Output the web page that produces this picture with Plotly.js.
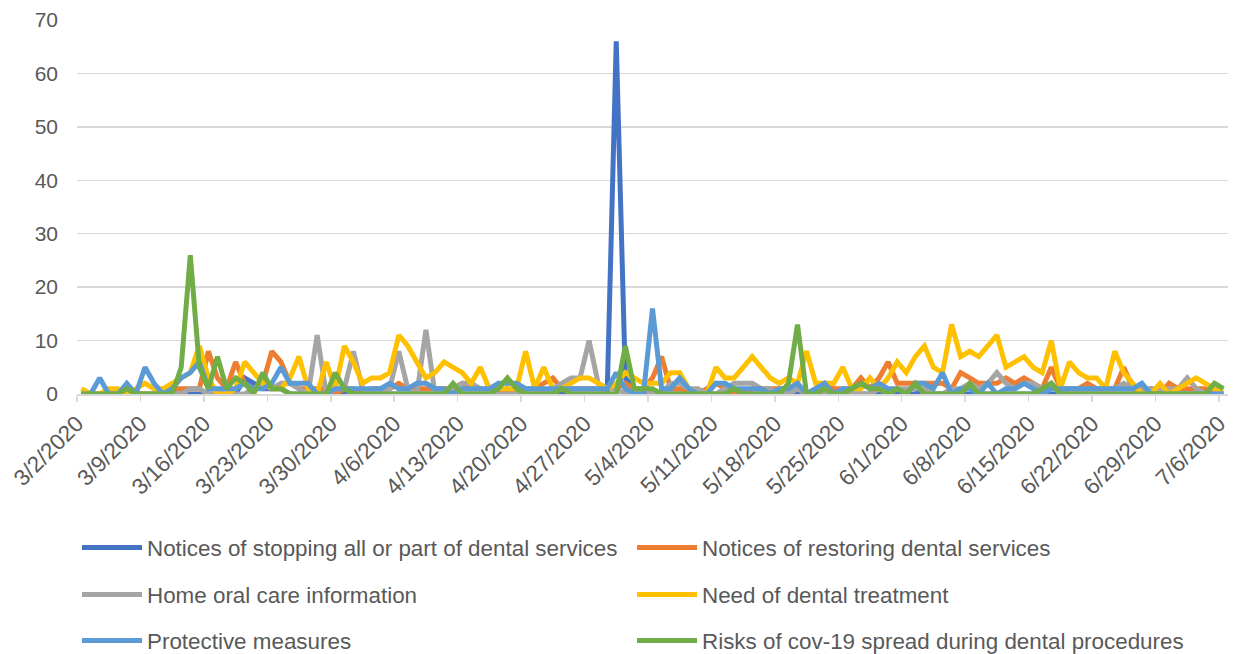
<!DOCTYPE html>
<html>
<head>
<meta charset="utf-8">
<script src="https://cdn.plot.ly/plotly-3.0.1.min.js"></script>
<style>
  html, body { margin: 0; padding: 0; background: #ffffff; }
  #chart { width: 1233px; height: 654px; }
</style>
</head>
<body>
<div id="chart"></div>
<script>
// ---- Data (daily counts, 3/2/2020 .. 7/6/2020) ----
const startDate = "2020-03-02";
const dayCount = 127;

const seriesNames = [
  "Notices of stopping all or part of dental services",
  "Notices of restoring dental services",
  "Home oral care information",
  "Need of dental treatment",
  "Protective measures",
  "Risks of cov-19 spread during dental procedures"
];

const stopping = [
  0,0,0,0,0,0,0,0,0,0, 0,0,0,0,0,0,0,0,3,2, 1,1,1,0,0,0,0,0,0,0,
  0,1,0,0,0,0,0,0,0,0, 0,0,0,0,0,0,0,0,1,0, 0,0,0,0,0,0,0,0,0,66,
  3,1,0,0,0,0,0,0,0,0, 0,0,0,0,0,0,0,0,0,0, 0,0,0,0,0,0,0,0,0,0,
  0,0,0,1,0,0,0,0,0,0, 0,0,0,0,0,0,0,0,0,0, 0,0,0,0,0,0,0,0,0,0,
  0,0,0,0,0,0,0
];

const restoring = [
  0,0,0,0,0,0,0,0,0,0, 1,1,1,1,8,3,1,6,2,1, 2,8,6,2,1,1,1,1,0,1,
  1,0,1,1,1,2,1,1,1,1, 1,1,2,1,1,1,0,1,0,1, 1,2,3,1,1,1,1,1,1,1,
  2,1,1,3,7,1,1,0,0,1, 2,1,0,0,1,1,1,1,1,1, 0,1,2,1,1,1,3,1,3,6,
  2,2,2,2,2,2,1,4,3,2, 2,2,3,2,3,2,1,5,1,1, 1,2,1,1,1,5,1,0,1,0,
  2,1,1,1,1,0,0
];

const homeCare = [
  0,0,0,0,0,0,0,0,0,0, 0,0,1,1,0,0,0,0,0,1, 2,1,2,2,1,0,11,0,1,1,
  8,1,0,0,1,8,1,0,12,0, 0,1,2,2,1,1,0,0,0,1, 1,0,1,2,3,3,10,2,1,1,
  0,0,1,0,0,2,2,1,1,0, 0,1,2,2,2,1,1,0,0,1, 0,0,0,0,0,0,0,0,1,0,
  1,1,1,1,0,0,1,1,2,1, 2,4,2,1,2,2,1,2,0,1, 1,1,1,1,1,2,1,1,1,1,
  1,1,3,1,0,0,0
];

const needTreatment = [
  1,0,0,1,1,0,1,2,1,1, 2,3,4,9,3,0,0,1,6,4, 2,1,1,3,7,1,0,6,1,9,
  6,2,3,3,4,11,9,6,3,4, 6,5,4,2,5,1,1,1,1,8, 1,5,1,1,2,3,3,2,1,2,
  4,3,2,2,2,4,4,1,0,0, 5,3,3,5,7,5,3,2,3,2, 8,2,2,2,5,1,1,3,1,3,
  6,4,7,9,5,4,13,7,8,7, 9,11,5,6,7,5,4,10,1,6, 4,3,3,1,8,4,2,0,0,2,
  0,1,2,3,2,1,1
];

const protective = [
  0,0,3,0,0,2,0,5,2,0, 1,3,4,6,1,1,1,1,2,1, 1,2,5,2,2,2,0,0,1,1,
  1,1,1,1,2,1,1,2,2,1, 1,0,1,1,1,1,2,2,2,1, 1,1,1,1,1,1,1,1,1,4,
  1,0,0,16,1,1,3,1,0,0, 2,2,1,1,1,1,0,1,1,2, 0,1,2,0,1,1,2,1,2,1,
  1,0,2,2,1,4,0,1,1,0, 2,0,1,1,2,1,0,1,1,1, 1,1,1,1,1,1,1,2,0,0,
  0,0,0,0,0,0,0
];

const risks = [
  0,0,0,0,0,1,0,0,0,0, 0,5,26,5,1,7,1,3,2,0, 4,1,1,0,0,0,0,0,4,1,
  0,0,0,0,0,0,0,0,0,0, 0,2,0,0,0,0,1,3,1,0, 0,0,0,1,0,0,0,0,0,0,
  9,1,1,1,0,0,0,0,0,0, 0,0,1,0,0,0,0,0,2,13, 0,0,1,0,0,1,2,1,1,0,
  1,0,2,0,0,0,0,0,2,0, 0,0,0,0,0,0,1,2,0,0, 0,0,0,0,0,0,0,0,0,0,
  0,0,0,0,0,2,1
];

const seriesValues = [stopping, restoring, homeCare, needTreatment, protective, risks];
const seriesColors = ["#4472C4", "#ED7D31", "#A5A5A5", "#FFC000", "#5B9BD5", "#70AD47"];

// ---- Dates (each point centred in its day, like an Excel date axis) ----
const dates = [];
(function () {
  const p = startDate.split("-").map(Number);
  const t0 = Date.UTC(p[0], p[1] - 1, p[2]);
  for (let i = 0; i < dayCount; i++) {
    const d = new Date(t0 + i * 86400000);
    dates.push(d.toISOString().slice(0, 10) + " 12:00");
  }
})();

const legendIds = ["legend", "legend", "legend2", "legend2", "legend3", "legend3"];

const traces = seriesValues.map((vals, i) => ({
  type: "scatter",
  mode: "lines",
  x: dates,
  y: vals,
  name: seriesNames[i],
  legend: legendIds[i],
  line: { color: seriesColors[i], width: 5 },
  hoverinfo: "x+y+name"
}));

const FONT = "Liberation Sans, Arial, sans-serif";
const TXT = "#595959";

function legendRow(y) {
  return {
    orientation: "h",
    x: 0.0,
    xanchor: "left",
    y: y,
    yanchor: "middle",
    entrywidth: 480,
    entrywidthmode: "pixels",
    itemwidth: 60,
    font: { family: FONT, size: 22.4, color: TXT },
    bgcolor: "rgba(0,0,0,0)",
    traceorder: "normal"
  };
}

const layout = {
  width: 1233,
  height: 654,
  margin: { l: 77, r: 5, t: 20, b: 260, autoexpand: false },
  paper_bgcolor: "#ffffff",
  plot_bgcolor: "#ffffff",
  font: { family: FONT, size: 21, color: TXT },
  showlegend: true,
  xaxis: {
    type: "date",
    range: ["2020-03-02", "2020-07-07"],
    tick0: "2020-03-02",
    dtick: 7 * 86400000,
    tickformat: "%-m/%-d/%Y",
    tickangle: -45,
    showgrid: false,
    showline: true,
    linecolor: "#d9d9d9",
    linewidth: 1.5,
    ticks: "outside",
    ticklen: 6,
    tickwidth: 1.5,
    tickcolor: "#d9d9d9",
    tickfont: { family: FONT, size: 22.5, color: TXT },
    zeroline: false,
    fixedrange: true
  },
  yaxis: {
    range: [0, 70],
    dtick: 10,
    tick0: 0,
    showgrid: true,
    gridcolor: "#d9d9d9",
    gridwidth: 1.5,
    zeroline: false,
    showline: false,
    ticks: "",
    ticklabelstandoff: 18,
    tickfont: { family: FONT, size: 21, color: TXT },
    fixedrange: true
  },
  legend: legendRow(-0.4118),
  legend2: legendRow(-0.5374),
  legend3: legendRow(-0.6604)
};

Plotly.newPlot("chart", traces, layout, { displayModeBar: false, staticPlot: true });
</script>
</body>
</html>
